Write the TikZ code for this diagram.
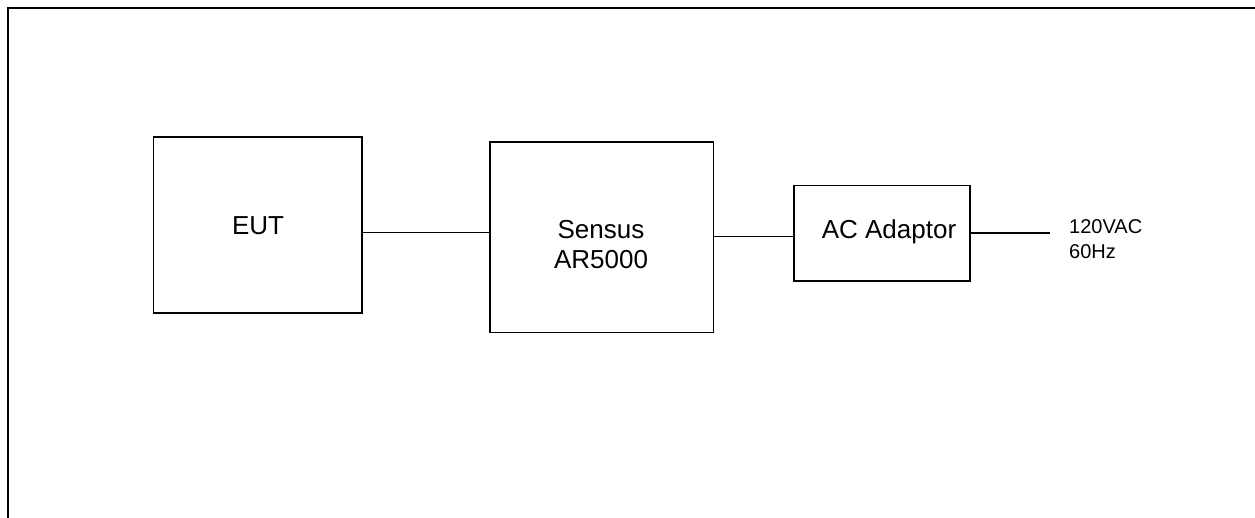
\documentclass[tikz,border=0pt]{standalone}
\usepackage{fontspec}
\setmainfont{Liberation Sans}
\begin{document}
\begin{tikzpicture}[x=1pt,y=-1pt,
  frame/.style={line width=2.2pt},
  box/.style={draw, line width=1.6pt, inner sep=0pt},
  wire/.style={line width=1.5pt},
  lbl/.style={inner sep=0pt, font=\fontsize{26}{30}\selectfont, align=center},
  small/.style={inner sep=0pt, font=\fontsize{20}{25}\selectfont, align=left}]
\useasboundingbox (0,0) rectangle (1255,517);
\draw[frame] (7.7,520) |- (1256,8.2);
% boxes
\node[box, minimum width=208.4pt, minimum height=176pt] (eut) at (257.5,224.7) {};
\node[box, minimum width=223.3pt, minimum height=190.6pt] (sensus) at (601.7,237) {};
\node[box, minimum width=176pt, minimum height=95.3pt] (ac) at (882,233.3) {};
% texts
\node[lbl, anchor=base] (eutt) at (258,234.3) {EUT};
\node[lbl, anchor=north] (sent) at (601,220.5) {Sensus\\AR5000};
\node[lbl, anchor=base] (act) at (889,238.3) {AC Adaptor};
\node[small, anchor=north west] (mains) at (1069,219.5) {120VAC\\60Hz};
% connectors
\coordinate (plug) at (1050,233);
\draw[wire] (eut.east |- 0,232.7) -- (sensus.west |- 0,232.7);
\draw[wire] (sensus.east |- 0,236.7) -- (ac.west |- 0,236.7);
\draw[wire] (ac.east |- plug) -- (plug);
\end{tikzpicture}
\end{document}
